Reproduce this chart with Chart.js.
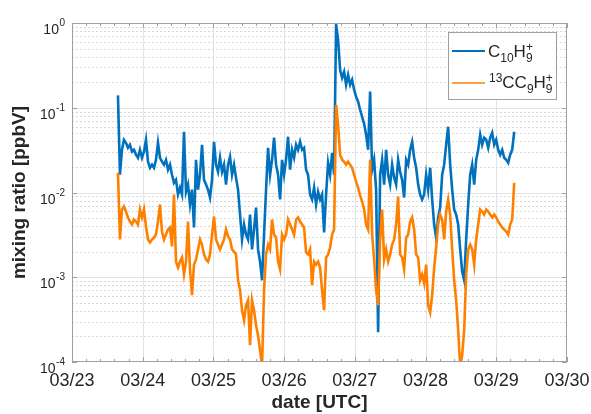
<!DOCTYPE html>
<html>
<head>
<meta charset="utf-8">
<title>mixing ratio</title>
<script src="https://cdn.jsdelivr.net/npm/chart.js@4.4.1/dist/chart.umd.min.js"></script>
<style>
  html, body { margin: 0; padding: 0; background: #fff; }
  canvas { display: block; }
</style>
</head>
<body>
<canvas id="grafico" width="591" height="414"></canvas>
<script>
// =========================
// DATA
// =========================
const startDay = 23.65;    // first sample, day of March (UTC)
const stepDay  = 0.0283;   // sampling interval (~41 min)

// C10H9+ [ppbV]
const c10h9 = [
  0.14, 0.0162, 0.0319, 0.0419, 0.0386, 0.0337, 0.0366, 0.0303, 0.0319, 0.0279,
  0.0257, 0.0319, 0.0257, 0.0303, 0.0419, 0.0231, 0.0196, 0.0213, 0.0196, 0.0243,
  0.0386, 0.0257, 0.0231, 0.0213, 0.0243, 0.0186, 0.0213, 0.0162, 0.0130, 0.0141,
  0.00947, 0.0114, 0.00947, 0.0521, 0.0102, 0.0124, 0.00722, 0.0108, 0.00386, 0.0243,
  0.0108, 0.0162, 0.0366, 0.0141, 0.0124, 0.0108, 0.00873, 0.0141, 0.0397, 0.0213,
  0.0176, 0.0257, 0.0176, 0.0213, 0.0124, 0.0213, 0.0264, 0.0162, 0.0213, 0.0149,
  0.0108, 0.0055, 0.00279, 0.00419, 0.00319, 0.00279, 0.0055, 0.00213, 0.00366, 0.00665,
  0.00213, 0.00153, 0.000922, 0.00319, 0.0108, 0.0337, 0.0162, 0.0243, 0.0443, 0.0213,
  0.0162, 0.00827, 0.0243, 0.0162, 0.0243, 0.0455, 0.0186, 0.0319, 0.0257, 0.0366,
  0.0319, 0.0397, 0.0319, 0.0337, 0.0186, 0.0162, 0.00947, 0.00827, 0.0114, 0.00722,
  0.0102, 0.00827, 0.00947, 0.00337, 0.00947, 0.0224, 0.0162, 0.0294, 0.0162, 0.97,
  0.63, 0.281, 0.226, 0.266, 0.187, 0.245, 0.187, 0.214, 0.163, 0.135,
  0.118, 0.0947, 0.0783, 0.0647, 0.048, 0.0319, 0.155, 0.0186, 0.0243, 0.0108,
  0.000224, 0.0162, 0.0243, 0.0124, 0.0319, 0.0162, 0.0124, 0.0213, 0.0149, 0.0124,
  0.0243, 0.0176, 0.0141, 0.00873, 0.0243, 0.0213, 0.0319, 0.0397, 0.0257, 0.0196,
  0.0124, 0.00947, 0.00827, 0.00947, 0.0162, 0.0108, 0.0196, 0.00827, 0.00419, 0.00294,
  0.00507, 0.00665, 0.0162, 0.0213, 0.0366, 0.0597, 0.0213, 0.0108, 0.0063, 0.0055,
  0.00419, 0.00213, 0.00117, 0.000922, 0.00279, 0.00722, 0.0162, 0.0213, 0.0124, 0.0243,
  0.0319, 0.048, 0.0366, 0.0443, 0.0419, 0.0337, 0.0443, 0.0507, 0.0366, 0.0419,
  0.0319, 0.0279, 0.0319, 0.0257, 0.0243, 0.0224, 0.0279, 0.0319, 0.0521
];

// 13CC9H9+ [ppbV]
const c13c9h9 = [
  0.0171, 0.00279, 0.0063, 0.00684, 0.00597, 0.00507, 0.00455, 0.00419, 0.0048, 0.00455,
  0.00419, 0.0063, 0.00507, 0.0063, 0.00397, 0.00279, 0.00257, 0.00279, 0.00294, 0.00319,
  0.00455, 0.00722, 0.00347, 0.00279, 0.00319, 0.00366, 0.00386, 0.00231, 0.00947, 0.00153,
  0.0013, 0.00153, 0.00171, 0.00108, 0.00153, 0.00455, 0.00124, 0.000613, 0.00141, 0.00162,
  0.00213, 0.00279, 0.00243, 0.00186, 0.00162, 0.00153, 0.00186, 0.00319, 0.00521, 0.00279,
  0.00243, 0.00213, 0.00243, 0.00279, 0.00366, 0.00303, 0.00279, 0.00213, 0.00201, 0.00186,
  0.000922, 0.000702, 0.000408, 0.000311, 0.000467, 0.000535, 0.000158, 0.000535, 0.000408, 0.000271,
  0.000207, 0.000138, 0.00009, 0.000702, 0.00186, 0.00243, 0.00213, 0.0048, 0.00319, 0.00294,
  0.00153, 0.00124, 0.00319, 0.00279, 0.00319, 0.0048, 0.00419, 0.00366, 0.00319, 0.0048,
  0.00507, 0.00455, 0.00419, 0.00386, 0.00196, 0.00186, 0.00213, 0.000805, 0.00153, 0.00141,
  0.00153, 0.0013, 0.000702, 0.000408, 0.00171, 0.00186, 0.00224, 0.00319, 0.00366, 0.108,
  0.063, 0.0279, 0.0243, 0.0231, 0.0213, 0.0231, 0.0213, 0.0196, 0.0162, 0.0134,
  0.0114, 0.00922, 0.00783, 0.0063, 0.00419, 0.00366, 0.0243, 0.00319, 0.00162, 0.000702,
  0.000467, 0.00279, 0.0063, 0.00162, 0.00213, 0.00153, 0.00186, 0.00243, 0.00279, 0.00419,
  0.00897, 0.00186, 0.00171, 0.00124, 0.00294, 0.00319, 0.00455, 0.00507, 0.00366, 0.00186,
  0.00171, 0.000922, 0.00108, 0.00085, 0.00141, 0.000467, 0.000386, 0.000613, 0.0013, 0.00224,
  0.00419, 0.0055, 0.0048, 0.00279, 0.00597, 0.00827, 0.0055, 0.00213, 0.000922, 0.000535,
  0.000237, 0.00009, 0.00012, 0.000237, 0.00108, 0.00213, 0.00243, 0.00213, 0.00141, 0.00279,
  0.00419, 0.0063, 0.00597, 0.0055, 0.0063, 0.00597, 0.0055, 0.00507, 0.0055, 0.00507,
  0.00455, 0.00419, 0.00386, 0.00366, 0.00347, 0.00319, 0.00419, 0.0048, 0.013
];

const xTickDays   = [23, 24, 25, 26, 27, 28, 29, 30];
const xTickLabels = ["03/23", "03/24", "03/25", "03/26", "03/27", "03/28", "03/29", "03/30"];
const yTickVals   = [1, 0.1, 0.01, 0.001, 0.0001];
const yTickExp    = ["0", "-1", "-2", "-3", "-4"];

// legend names as [text, role] pieces (role: "", "sub", "sup")
const nome1 = [["C", ""], ["10", "sub"], ["H", ""], ["9", "sub"], ["+", "sup"]];
const nome2 = [["13", "sup"], ["CC", ""], ["9", "sub"], ["H", ""], ["9", "sub"], ["+", "sup"]];

const AZUL    = "#0072bd";
const LARANJA = "#ff8000";

const tempos = c10h9.map((_, i) => startDay + i * stepDay);

// =========================
// STYLE
// =========================
const FONT  = "'Liberation Sans', Arial, Helvetica, sans-serif";
const EIXO  = "#a0a0a0";
const TEXTO = "#262626";

function linha(ctx, x1, y1, x2, y2) {
  ctx.beginPath();
  ctx.moveTo(x1, y1);
  ctx.lineTo(x2, y2);
  ctx.stroke();
}

// text with sub/superscripts, returns end x
function textoRico(ctx, partes, x, base, tam) {
  const pequeno = Math.round(tam * 0.7);
  let inicioSub = null;
  let fimSub = x;
  partes.forEach(([t, tipo]) => {
    if (tipo === "") {
      ctx.font = `${tam}px ${FONT}`;
      ctx.fillText(t, x, base);
      x += ctx.measureText(t).width;
      inicioSub = null;
    } else if (tipo === "sub") {
      ctx.font = `${pequeno}px ${FONT}`;
      ctx.fillText(t, x, base + 5);
      inicioSub = x;
      x += ctx.measureText(t).width;
      fimSub = x;
    } else {
      ctx.font = `${pequeno}px ${FONT}`;
      const x0 = inicioSub !== null ? inicioSub : x;
      ctx.fillText(t, x0, base - 6);
      x = Math.max(inicioSub !== null ? fimSub : x, x0 + ctx.measureText(t).width);
      inicioSub = null;
    }
  });
  return x;
}

// =========================
// AXES, GRID, LABELS, LEGEND
// =========================
const molduraPlugin = {
  id: "moldura",

  beforeDatasetsDraw(chart) {
    const { ctx, chartArea: a, scales: { x, y } } = chart;
    ctx.save();
    ctx.lineWidth = 1;

    // minor log grid (dotted)
    ctx.strokeStyle = "#d9d9d9";
    ctx.setLineDash([2, 2]);
    for (let d = -4; d < 0; d++) {
      for (let m = 2; m <= 9; m++) {
        const py = Math.round(y.getPixelForValue(m * Math.pow(10, d))) + 0.5;
        linha(ctx, a.left, py, a.right, py);
      }
    }
    ctx.setLineDash([]);

    // major grid
    ctx.strokeStyle = "#e3e3e3";
    yTickVals.slice(1, -1).forEach(v => {
      const py = Math.round(y.getPixelForValue(v)) + 0.5;
      linha(ctx, a.left, py, a.right, py);
    });
    xTickDays.slice(1, -1).forEach(v => {
      const px = Math.round(x.getPixelForValue(v)) + 0.5;
      linha(ctx, px, a.top, px, a.bottom);
    });
    ctx.restore();
  },

  afterDatasetsDraw(chart) {
    const { ctx, chartArea: a, scales: { x, y } } = chart;
    ctx.save();

    // box
    ctx.strokeStyle = EIXO;
    ctx.lineWidth = 1;
    ctx.strokeRect(a.left + 0.5, a.top + 0.5, a.right - a.left - 1, a.bottom - a.top - 1);

    // x ticks (major per day, minor every 0.2 day)
    for (let i = 0; i < xTickDays.length; i++) {
      const d = xTickDays[i];
      const px = Math.round(x.getPixelForValue(d)) + 0.5;
      linha(ctx, px, a.bottom, px, a.bottom - 5);
      linha(ctx, px, a.top, px, a.top + 5);
      if (i < xTickDays.length - 1) {
        for (let k = 1; k < 5; k++) {
          const pm = Math.round(x.getPixelForValue(d + k * 0.2)) + 0.5;
          linha(ctx, pm, a.bottom, pm, a.bottom - 3);
          linha(ctx, pm, a.top, pm, a.top + 3);
        }
      }
    }
    // y ticks
    yTickVals.forEach(v => {
      const py = Math.round(y.getPixelForValue(v)) + 0.5;
      linha(ctx, a.left, py, a.left + 5, py);
      linha(ctx, a.right, py, a.right - 5, py);
    });

    ctx.fillStyle = TEXTO;
    ctx.textBaseline = "alphabetic";

    // y tick labels 10^n
    yTickVals.forEach((v, i) => {
      const py = y.getPixelForValue(v);
      ctx.textAlign = "right";
      ctx.font = `10px ${FONT}`;
      const wExp = ctx.measureText(yTickExp[i]).width;
      ctx.fillText(yTickExp[i], 65, py + 3);
      ctx.font = `14px ${FONT}`;
      ctx.fillText("10", 65 - wExp - 0.5, py + 11);
    });

    // x tick labels
    ctx.textAlign = "center";
    ctx.font = `18px ${FONT}`;
    xTickDays.forEach((d, i) => {
      ctx.fillText(xTickLabels[i], x.getPixelForValue(d), 386);
    });

    // axis titles
    ctx.font = `bold 19px ${FONT}`;
    ctx.fillText("date [UTC]", (a.left + a.right) / 2, 408);
    ctx.save();
    ctx.translate(25, (a.top + a.bottom) / 2);
    ctx.rotate(-Math.PI / 2);
    ctx.fillText("mixing ratio [ppbV]", 0, 0);
    ctx.restore();

    // legend
    ctx.fillStyle = "#ffffff";
    ctx.fillRect(448, 32, 109, 68);
    ctx.strokeStyle = EIXO;
    ctx.strokeRect(448.5, 32.5, 108, 67);

    ctx.strokeStyle = AZUL;
    ctx.lineWidth = 2;
    linha(ctx, 452, 51, 485, 51);
    ctx.strokeStyle = LARANJA;
    ctx.lineWidth = 1.5;
    linha(ctx, 452, 83, 485, 83);

    ctx.fillStyle = TEXTO;
    ctx.textAlign = "left";
    textoRico(ctx, nome1, 488, 57, 17);
    textoRico(ctx, nome2, 489, 88, 17);

    ctx.restore();
  }
};

// =========================
// CHART
// =========================
new Chart(document.getElementById("grafico"), {
  type: "line",
  data: {
    datasets: [
      {
        label: "C10H9+",
        data: tempos.map((t, i) => ({ x: t, y: c10h9[i] })),
        borderColor: AZUL,
        borderWidth: 2.6,
        order: 1
      },
      {
        label: "13CC9H9+",
        data: tempos.map((t, i) => ({ x: t, y: c13c9h9[i] })),
        borderColor: LARANJA,
        borderWidth: 2.6,
        order: 0
      }
    ]
  },
  options: {
    responsive: false,
    animation: false,
    devicePixelRatio: 1,
    layout: { padding: { top: 23, right: 24, left: 0, bottom: 0 } },
    elements: {
      point: { radius: 0 },
      line: { tension: 0, borderJoinStyle: "miter" }
    },
    datasets: { line: { clip: 0 } },
    plugins: {
      legend: { display: false },
      tooltip: { enabled: false }
    },
    scales: {
      x: {
        type: "linear",
        min: 23,
        max: 30,
        ticks: { display: false },
        grid: { display: false },
        border: { display: false },
        afterFit: s => { s.height = 52; }
      },
      y: {
        type: "logarithmic",
        min: 0.0001,
        max: 1,
        ticks: { display: false },
        grid: { display: false },
        border: { display: false },
        afterFit: s => { s.width = 72; }
      }
    }
  },
  plugins: [molduraPlugin]
});
</script>
</body>
</html>
